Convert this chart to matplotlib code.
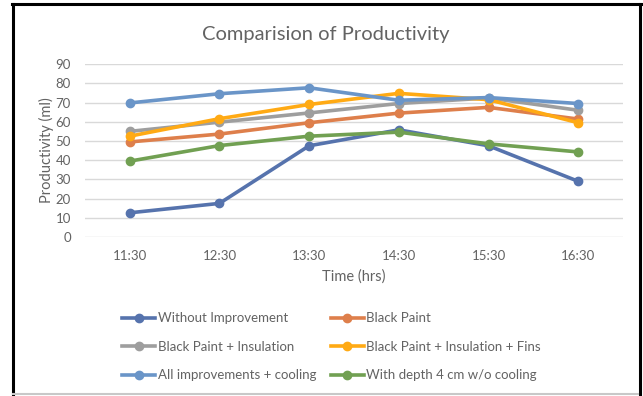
import matplotlib
matplotlib.use("Agg")
import matplotlib.pyplot as plt
from matplotlib.lines import Line2D

times = ["11:30", "12:30", "13:30", "14:30", "15:30", "16:30"]

without_improvement = [12.6, 17.5, 47.5, 55.8, 47.5, 29.0]
black_paint = [49.5, 53.6, 59.5, 64.5, 67.5, 61.4]
paint_insulation = [55.0, 59.8, 64.6, 69.5, 72.4, 66.0]
paint_insulation_fins = [52.5, 61.6, 69.0, 74.8, 71.5, 59.5]
all_cooling = [69.8, 74.6, 77.7, 71.2, 72.6, 69.5]
depth_4cm = [39.5, 47.6, 52.5, 54.6, 48.5, 44.3]

series = [
    ("Without Improvement", without_improvement, "#5673AD"),
    ("Black Paint", black_paint, "#DE7F4B"),
    ("Black Paint + Insulation", paint_insulation, "#9E9E9E"),
    ("Black Paint + Insulation + Fins", paint_insulation_fins, "#FFAA14"),
    ("All improvements + cooling", all_cooling, "#6A95C8"),
    ("With depth 4 cm w/o cooling", depth_4cm, "#71A052"),
]

plt.rcParams["font.family"] = ["Lato", "DejaVu Sans"]
TXT = "#636363"

fig = plt.figure(figsize=(6.43, 3.96), dpi=100)
ax = fig.add_axes([0.132, 0.4015, 0.837, 0.4365])

x = list(range(len(times)))
handles = {}
for name, vals, col in series:
    (ln,) = ax.plot(x, vals, color=col, linewidth=2.6, marker="o",
                    markersize=6, label=name, zorder=3)
    handles[name] = ln

ax.set_xlim(-0.5, len(times) - 0.5)
ax.set_ylim(0, 90)
ax.set_yticks(range(0, 91, 10))
ax.set_xticks(x)
ax.set_xticklabels(times)
ax.grid(axis="y", color="#D9D9D9", linewidth=1.0)
ax.set_axisbelow(True)
for s in ax.spines.values():
    s.set_visible(False)
ax.tick_params(length=0, colors=TXT, labelsize=9.5)
ax.tick_params(axis="x", pad=9)
ax.tick_params(axis="y", pad=10)
ax.set_xlabel("Time (hrs)", color=TXT, fontsize=10.5, labelpad=6)
ax.set_ylabel("Productivity (ml)", color=TXT, fontsize=10.5, labelpad=1)

fig.text(0.507, 0.912, "Comparision of Productivity", ha="center", va="center",
         color=TXT, fontsize=14.5)

order = ["Without Improvement", "Black Paint + Insulation", "All improvements + cooling",
         "Black Paint", "Black Paint + Insulation + Fins", "With depth 4 cm w/o cooling"]
leg = fig.legend([handles[n] for n in order], order, ncol=2, loc="center left",
                 bbox_to_anchor=(0.19, 0.124), frameon=False, fontsize=9.5,
                 handlelength=2.5, handletextpad=0.2, columnspacing=1.1,
                 labelspacing=1.25, borderaxespad=0, borderpad=0)
for t in leg.get_texts():
    t.set_color(TXT)

# chart frame
fig.add_artist(Line2D([0.019, 0.997], [0.99, 0.99], color="black", linewidth=2.2,
                      transform=fig.transFigure))
fig.add_artist(Line2D([0.0195, 0.0195], [0.0, 0.99], color="black", linewidth=2.2,
                      transform=fig.transFigure))
fig.add_artist(Line2D([0.9955, 0.9955], [0.0, 0.99], color="black", linewidth=2.2,
                      transform=fig.transFigure))
fig.add_artist(Line2D([0.02, 0.993], [0.005, 0.005], color="#C8C8C8", linewidth=1.5,
                      transform=fig.transFigure))

fig.savefig("out.png", dpi=100)
